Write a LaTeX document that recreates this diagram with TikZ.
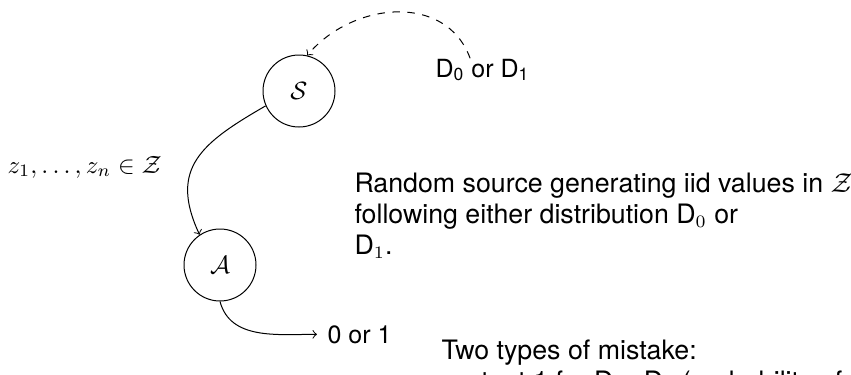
\documentclass[tikz,border=0pt]{standalone}
\usepackage{amsmath,amssymb}
\usepackage[no-math]{fontspec}
\setmainfont{TeX Gyre Heros}
\usepackage{tikz}

\begin{document}
\begin{tikzpicture}[
  x=0.4pt, y=-0.4pt,
  agent/.style={draw, circle, minimum size=28.8pt, inner sep=0pt},
  txt/.style={inner sep=0pt, anchor=base west, align=left},
  note/.style={txt, font=\fontsize{10.7}{12.4}\selectfont},
  arrow/.style={->}
]
\useasboundingbox (0,0) rectangle (851,374);
\clip (0,0) rectangle (851,374);

% source and learner
\node[agent] (src) at (299,91) {$\mathcal{S}$};
\node[agent] (alg) at (220,265) {$\mathcal{A}$};

% labels
\node[txt] (dist) at (435,77) {D\textsubscript{0} or D\textsubscript{1}};
\node[txt] (samples) at (7,173) {$z_1,\dots,z_n\in\mathcal{Z}$};
\node[txt] (out) at (327,343) {0 or 1};

\draw[arrow, dashed] ([xshift=-5pt]dist.north) to[out=110, in=50, looseness=1.1] (src.77);
\draw[arrow] (src.204) to[out=210, in=115, looseness=1.3] (alg.124);
\draw[arrow] (alg.south) to[out=-75, in=180] ([xshift=-4pt]out.west);

% comments (baseline of the last line)
\node[note] (desc) at (354,254) {Random source generating iid values in $\mathcal{Z}$\\
  following either distribution D$_0$ or\\
  D$_1$.};
\node[note] (mist) at (441,390) {Two types of mistake:\\
  \hspace{4pt}output 1 for D = D$_0$ (probability of false alarm)};

\end{tikzpicture}
\end{document}
